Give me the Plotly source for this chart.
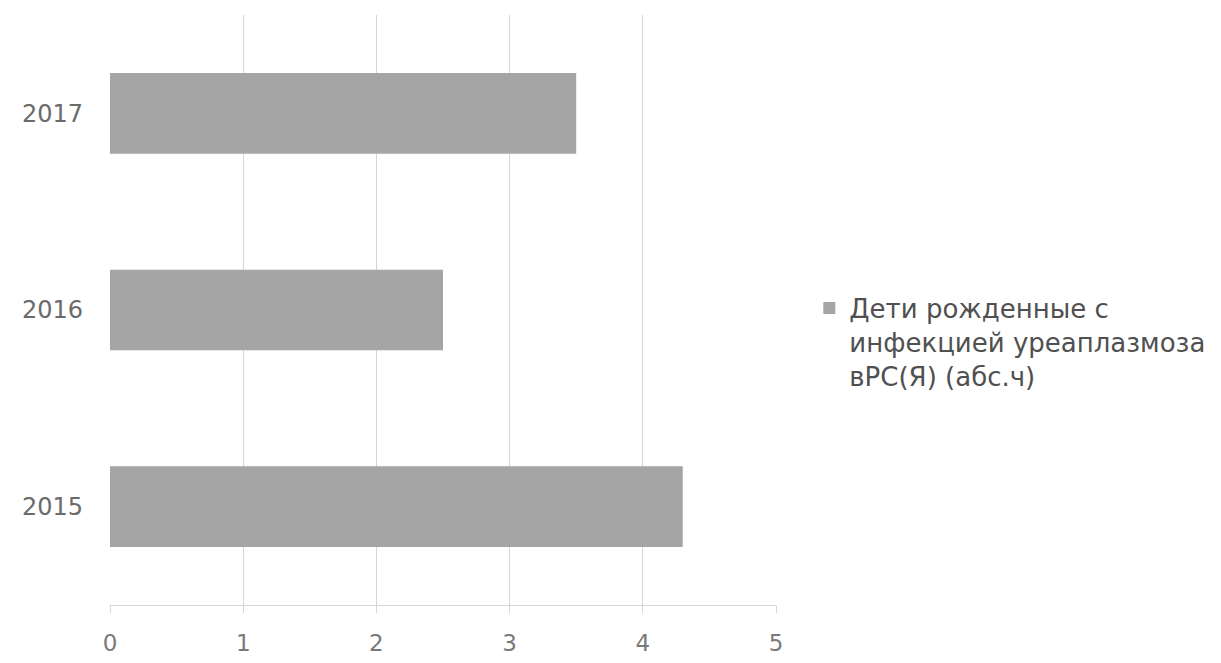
import plotly.graph_objects as go

years = ["2015", "2016", "2017"]
values = [4.3, 2.5, 3.5]
series_name = "Дети рожденные с<br>инфекцией уреаплазмоза<br>вРС(Я) (абс.ч)"
x_ticks = [0, 1, 2, 3, 4, 5]

fig = go.Figure()
fig.add_trace(go.Bar(
    y=years, x=values, orientation="h",
    name=series_name,
    marker=dict(color="#a5a5a5", line=dict(width=0)),
    showlegend=True,
))

fig.update_layout(
    width=1221, height=663,
    margin=dict(l=110, r=445, t=15, b=58, autoexpand=False),
    paper_bgcolor="white", plot_bgcolor="white",
    bargap=0.59,
    font=dict(family="DejaVu Sans, sans-serif", color="#6b6b6b"),
    showlegend=True,
    legend=dict(
        x=1.05, xanchor="left", y=0.543, yanchor="top",
        font=dict(size=26, color="#505050"),
        itemwidth=30, valign="top",
        bgcolor="rgba(0,0,0,0)",
    ),
    xaxis=dict(
        range=[0, 5], tickvals=x_ticks, ticktext=[str(v) for v in x_ticks],
        showgrid=True, gridcolor="#d6d6d6", gridwidth=1,
        showline=True, linecolor="#d6d6d6", linewidth=1,
        ticks="outside", ticklen=7, tickcolor="#d6d6d6",
        tickfont=dict(size=23, color="#7a7a7a"),
        ticklabelstandoff=10,
        zeroline=False,
    ),
    yaxis=dict(
        categoryorder="array", categoryarray=years,
        showgrid=False, showline=False, zeroline=False,
        ticks="", tickfont=dict(size=24, color="#6b6b6b"),
        ticklabelstandoff=26,
    ),
)

fig.write_html("out.html")
